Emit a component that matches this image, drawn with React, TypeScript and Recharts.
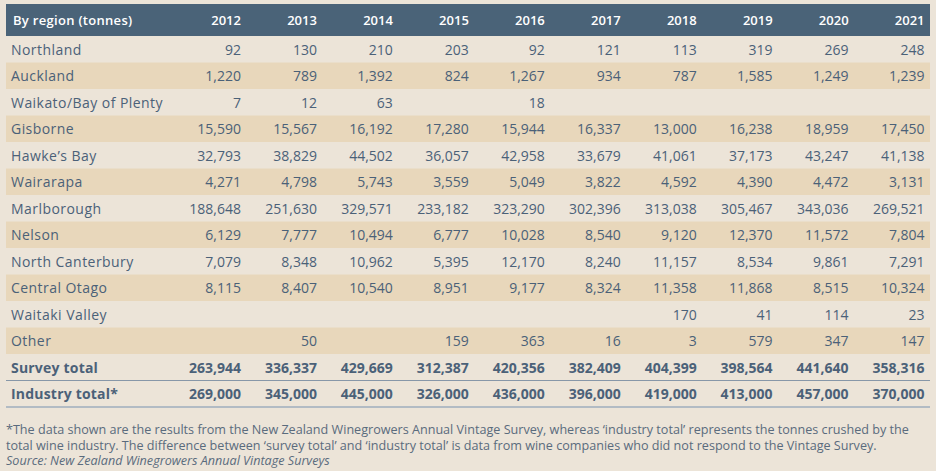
import React from 'react';
import { ScatterChart, Scatter, XAxis, YAxis, ReferenceArea } from 'recharts';

const years = [2012, 2013, 2014, 2015, 2016, 2017, 2018, 2019, 2020, 2021];

const northland = [92, 130, 210, 203, 92, 121, 113, 319, 269, 248];
const auckland = [1220, 789, 1392, 824, 1267, 934, 787, 1585, 1249, 1239];
const waikato = [7, 12, 63, null, 18, null, null, null, null, null];
const gisborne = [15590, 15567, 16192, 17280, 15944, 16337, 13000, 16238, 18959, 17450];
const hawkesBay = [32793, 38829, 44502, 36057, 42958, 33679, 41061, 37173, 43247, 41138];
const wairarapa = [4271, 4798, 5743, 3559, 5049, 3822, 4592, 4390, 4472, 3131];
const marlborough = [188648, 251630, 329571, 233182, 323290, 302396, 313038, 305467, 343036, 269521];
const nelson = [6129, 7777, 10494, 6777, 10028, 8540, 9120, 12370, 11572, 7804];
const northCanterbury = [7079, 8348, 10962, 5395, 12170, 8240, 11157, 8534, 9861, 7291];
const centralOtago = [8115, 8407, 10540, 8951, 9177, 8324, 11358, 11868, 8515, 10324];
const waitaki = [null, null, null, null, null, null, 170, 41, 114, 23];
const other = [null, 50, null, 159, 363, 16, 3, 579, 347, 147];
const surveyTotal = [263944, 336337, 429669, 312387, 420356, 382409, 404399, 398564, 441640, 358316];
const industryTotal = [269000, 345000, 445000, 326000, 436000, 396000, 419000, 413000, 457000, 370000];

const rows = [
  { name: 'Northland', values: northland },
  { name: 'Auckland', values: auckland },
  { name: 'Waikato/Bay of Plenty', values: waikato },
  { name: 'Gisborne', values: gisborne },
  { name: 'Hawke’s Bay', values: hawkesBay },
  { name: 'Wairarapa', values: wairarapa },
  { name: 'Marlborough', values: marlborough },
  { name: 'Nelson', values: nelson },
  { name: 'North Canterbury', values: northCanterbury },
  { name: 'Central Otago', values: centralOtago },
  { name: 'Waitaki Valley', values: waitaki },
  { name: 'Other', values: other },
  { name: 'Survey total', values: surveyTotal },
  { name: 'Industry total*', values: industryTotal },
];

const totals = ['Survey total', 'Industry total*'];

const cells = rows.flatMap((r) =>
  years
    .map((year, i) => ({ year, region: r.name, value: r.values[i] }))
    .filter((c) => c.value != null)
);

const textColor = '#4b6178';
const font = '"Open Sans", sans-serif';

const CellText = (props: any) => {
  const { cx, cy, payload } = props;
  const bold = totals.includes(payload.region);
  return (
    <text
      x={cx}
      y={cy}
      textAnchor="end"
      dominantBaseline="central"
      fill={textColor}
      fontFamily={font}
      fontSize={14}
      fontWeight={bold ? 700 : 400}
    >
      {payload.value.toLocaleString('en-US')}
    </text>
  );
};

const YearTick = (props: any) => {
  const { x, y, payload } = props;
  return (
    <text
      x={x}
      y={y - 16}
      textAnchor="end"
      dominantBaseline="central"
      fill="#ffffff"
      fontFamily={font}
      fontSize={13}
      fontWeight={600}
    >
      {payload.value}
    </text>
  );
};

const RegionTick = (props: any) => {
  const { y, payload } = props;
  const bold = totals.includes(payload.value);
  return (
    <text
      x={11}
      y={y}
      textAnchor="start"
      dominantBaseline="central"
      fill={textColor}
      fontFamily={font}
      fontSize={14}
      fontWeight={bold ? 700 : 400}
      letterSpacing={bold ? 0.2 : 0.45}
    >
      {payload.value}
    </text>
  );
};

const TotalLines = (props: any) => {
  const { x, y, width, height } = props;
  return (
    <g>
      <line x1={x} x2={x + width} y1={y} y2={y} stroke="#8797a8" strokeWidth={1} />
      <line x1={x} x2={x + width} y1={y + height} y2={y + height} stroke="#b2bbc4" strokeWidth={2} />
    </g>
  );
};

export default function App() {
  return (
    <div
      style={{
        position: 'absolute',
        left: 0,
        top: 0,
        width: 936,
        height: 471,
        background: '#ece4d8',
        fontFamily: font,
        overflow: 'hidden',
      }}
    >
      <div
        style={{
          position: 'absolute',
          left: 6,
          top: 4,
          width: 924,
          height: 32,
          background: '#4a6378',
          color: '#ffffff',
          fontSize: 13,
          fontWeight: 600,
          letterSpacing: 0.3,
          lineHeight: '32px',
          paddingLeft: 7,
          boxSizing: 'border-box',
        }}
      >
        By region (tonnes)
      </div>
      <div style={{ position: 'absolute', left: 0, top: 0 }}>
        <ScatterChart width={936} height={410} margin={{ top: 4, right: 6, bottom: 3, left: 6 }}>
          {rows.map((r, i) =>
            i % 2 === 1 && i < 12 ? (
              <ReferenceArea
                key={r.name}
                y1={r.name}
                y2={r.name}
                fill="#e8d7bb"
                fillOpacity={1}
                stroke="none"
              />
            ) : null
          )}
          <ReferenceArea
            y1="Industry total*"
            y2="Industry total*"
            fill="none"
            stroke="none"
            shape={TotalLines}
          />
          <XAxis
            type="number"
            dataKey="year"
            orientation="top"
            height={32}
            domain={[2008.906, 2021.072]}
            allowDataOverflow
            ticks={years}
            interval={0}
            tickLine={false}
            axisLine={false}
            tickSize={0}
            tickMargin={0}
            tick={<YearTick />}
          />
          <YAxis
            type="category"
            dataKey="region"
            allowDuplicatedCategory={false}
            reversed
            mirror
            width={160}
            interval={0}
            tickLine={false}
            axisLine={false}
            tick={<RegionTick />}
          />
          <Scatter data={cells} shape={<CellText />} isAnimationActive={false} />
        </ScatterChart>
      </div>
      <div
        style={{
          position: 'absolute',
          left: 6,
          top: 422,
          fontSize: 12.6,
          lineHeight: '15.5px',
          color: '#5a6b7d',
          whiteSpace: 'nowrap',
        }}
      >
        <div>
          *The data shown are the results from the New Zealand Winegrowers Annual Vintage Survey, whereas ‘industry
          total’ represents the tonnes crushed by the
        </div>
        <div>
          total wine industry. The difference between ‘survey total’ and ‘industry total’ is data from wine companies
          who did not respond to the Vintage Survey.
        </div>
        <div style={{ fontStyle: 'italic' }}>Source: New Zealand Winegrowers Annual Vintage Surveys</div>
      </div>
    </div>
  );
}
